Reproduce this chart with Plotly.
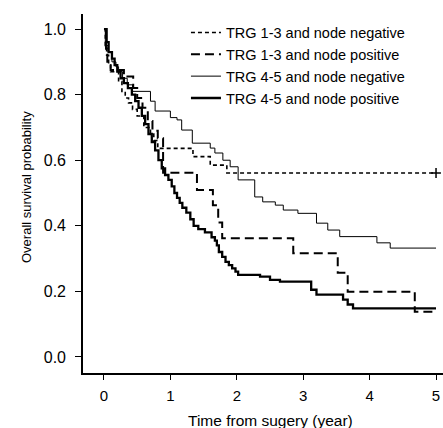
import plotly.graph_objects as go

# Time (years) and survival probability for each Kaplan-Meier curve (step points)
trg13_neg_t = [0, 0.02, 0.04, 0.07, 0.10, 0.22, 0.27, 0.32, 0.37, 0.43, 0.50, 0.60, 0.70, 0.75, 0.81, 1.34, 1.60, 1.85, 5.0]
trg13_neg_s = [1.0, 0.95, 0.92, 0.89, 0.87, 0.84, 0.81, 0.79, 0.775, 0.755, 0.735, 0.70, 0.68, 0.66, 0.636, 0.611, 0.585, 0.561, 0.561]

trg13_pos_t = [0, 0.03, 0.05, 0.10, 0.30, 0.44, 0.50, 0.58, 0.66, 0.73, 0.81, 0.89, 1.40, 1.64, 1.72, 1.78, 2.85, 3.52, 3.67, 4.68, 5.0]
trg13_pos_s = [1.0, 0.94, 0.90, 0.875, 0.855, 0.82, 0.79, 0.76, 0.72, 0.69, 0.667, 0.562, 0.509, 0.463, 0.41, 0.362, 0.316, 0.257, 0.199, 0.138, 0.138]

trg45_neg_t = [0, 0.02, 0.06, 0.12, 0.18, 0.22, 0.28, 0.35, 0.43, 0.70, 0.77, 1.00, 1.10, 1.17, 1.33, 1.60, 1.67, 1.79, 1.90, 2.02, 2.27, 2.39, 2.58, 2.70, 2.92, 3.20, 3.37, 3.55, 4.11, 4.31, 5.0]
trg45_neg_s = [1.0, 0.95, 0.93, 0.90, 0.885, 0.87, 0.85, 0.83, 0.81, 0.78, 0.75, 0.73, 0.723, 0.692, 0.652, 0.637, 0.622, 0.60, 0.58, 0.54, 0.488, 0.473, 0.463, 0.448, 0.438, 0.408, 0.387, 0.367, 0.348, 0.332, 0.332]

trg45_pos_t = [0, 0.04, 0.07, 0.12, 0.16, 0.20, 0.25, 0.30, 0.36, 0.42, 0.47, 0.52, 0.57, 0.62, 0.67, 0.72, 0.77, 0.82, 0.87, 0.92, 0.97, 1.02, 1.06, 1.10, 1.14, 1.18, 1.24, 1.30, 1.35, 1.42, 1.52, 1.62, 1.67, 1.70, 1.73, 1.78, 1.83, 1.88, 1.93, 1.98, 2.02, 2.35, 2.50, 2.65, 3.12, 3.20, 3.60, 3.67, 3.75, 5.0]
trg45_pos_s = [1.0, 0.96, 0.93, 0.91, 0.89, 0.87, 0.85, 0.835, 0.82, 0.80, 0.78, 0.76, 0.735, 0.71, 0.68, 0.655, 0.63, 0.60, 0.575, 0.555, 0.54, 0.52, 0.50, 0.485, 0.47, 0.455, 0.44, 0.42, 0.40, 0.39, 0.38, 0.365, 0.355, 0.34, 0.32, 0.305, 0.29, 0.28, 0.27, 0.26, 0.25, 0.245, 0.235, 0.23, 0.205, 0.19, 0.175, 0.16, 0.148, 0.148]

series_names = ["TRG 1-3 and node negative", "TRG 1-3 and node positive",
                "TRG 4-5 and node negative", "TRG 4-5 and node positive"]

x_ticks = [0, 1, 2, 3, 4, 5]
y_ticks = [0.0, 0.2, 0.4, 0.6, 0.8, 1.0]
x_title = "Time from sugery (year)"
y_title = "Overall survival probability"

FONT = "Arial, 'Liberation Sans', Helvetica, sans-serif"

fig = go.Figure()
styles = [
    dict(color="black", width=1.6, dash="4px,3px"),
    dict(color="black", width=2.0, dash="9px,5px"),
    dict(color="black", width=1.0, dash="solid"),
    dict(color="black", width=2.3, dash="solid"),
]
data = [(trg13_neg_t, trg13_neg_s), (trg13_pos_t, trg13_pos_s),
        (trg45_neg_t, trg45_neg_s), (trg45_pos_t, trg45_pos_s)]
for (t, s), name, st in zip(data, series_names, styles):
    fig.add_trace(go.Scatter(x=t, y=s, mode="lines", name=name,
                             line=dict(shape="hv", **st)))

# censor mark at end of the first curve
fig.add_trace(go.Scatter(x=[trg13_neg_t[-1]], y=[trg13_neg_s[-1]], mode="markers",
                         showlegend=False,
                         marker=dict(symbol="cross-thin", size=7,
                                     line=dict(color="black", width=1.5))))

fig.update_layout(
    width=443, height=428,
    margin=dict(l=83, r=0, t=14, b=55, autoexpand=False),
    paper_bgcolor="white", plot_bgcolor="white",
    font=dict(family=FONT, size=15, color="black"),
    showlegend=True,
    legend=dict(x=0.286, y=0.993, xanchor="left", yanchor="top",
                bgcolor="rgba(0,0,0,0)", font=dict(size=14.5),
                tracegroupgap=0, itemwidth=30),
    xaxis=dict(range=[-0.316, 5.105], tickvals=x_ticks,
               ticktext=[str(v) for v in x_ticks], automargin=False,
               showline=True, linecolor="black", linewidth=1.6,
               ticks="outside", ticklen=5, tickwidth=1.3, tickcolor="black",
               showgrid=False, zeroline=False, ticklabelstandoff=3,
               tickfont=dict(size=15)),
    yaxis=dict(range=[-0.049, 1.046], tickvals=y_ticks,
               ticktext=[f"{v:.1f}" for v in y_ticks], automargin=False,
               showline=True, linecolor="black", linewidth=1.6,
               ticks="outside", ticklen=6, tickwidth=1.3, tickcolor="black",
               showgrid=False, zeroline=False, ticklabelstandoff=6,
               tickfont=dict(size=16)),
    annotations=[
        dict(text=x_title, xref="paper", yref="paper", x=(270 - 83) / 360, y=-(420 - 373) / 359,
             xanchor="center", yanchor="middle", showarrow=False, font=dict(size=15.5)),
        dict(text=y_title, xref="paper", yref="paper", x=-(83 - 26) / 360, y=(373 - 187) / 359,
             xanchor="center", yanchor="middle", showarrow=False, textangle=-90,
             font=dict(size=13)),
    ],
)

fig.write_html("out.html", config={"displayModeBar": False},
               post_script="document.body.style.margin='0';document.body.style.padding='0';")
